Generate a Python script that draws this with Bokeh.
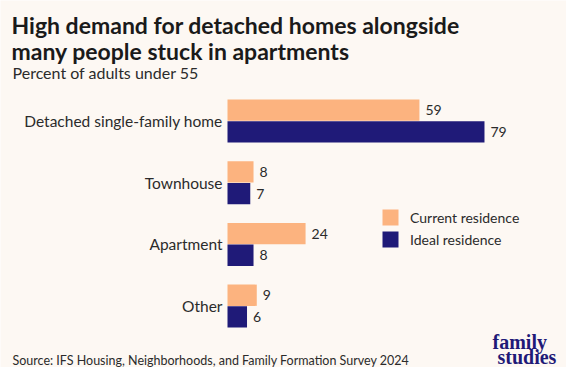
from bokeh.plotting import figure
from bokeh.models import ColumnDataSource, Range1d, Label, Legend, LegendItem
from bokeh.core.properties import value
from bokeh.embed import file_html
from bokeh.resources import INLINE

categories = ["Detached single-family home", "Townhouse", "Apartment", "Other"]
current = [59, 8, 24, 9]
ideal = [79, 7, 8, 6]
series_names = ["Current residence", "Ideal residence"]

BG = "#fdf8f3"
ORANGE = "#fcb37f"
NAVY = "#1f1a78"
TXT = "#2b2b2b"

W, H = 566, 367
px_per_unit = 3.253
bar_x0 = 227.0
pitch = 61.7
first_center = 120.5

p = figure(width=W, height=H, output_backend="svg", toolbar_location=None,
           x_range=Range1d(-bar_x0 / px_per_unit, (W - bar_x0) / px_per_unit),
           y_range=Range1d((H - first_center) / pitch, -first_center / pitch),
           min_border=0, x_axis_type=None, y_axis_type=None)
p.background_fill_color = BG
p.border_fill_color = BG
p.outline_line_color = None
p.xgrid.visible = False
p.ygrid.visible = False

idx = list(range(len(categories)))
off = 0.176
hgt = 0.345
src = ColumnDataSource(dict(
    cat=categories, cur=current, ide=ideal,
    yc=[i - off for i in idx], yi=[i + off for i in idx], ym=idx,
    curs=[str(v) for v in current], ides=[str(v) for v in ideal],
))

r_cur = p.hbar(y="yc", left=0, right="cur", height=hgt, source=src,
               fill_color=ORANGE, line_color=None)
r_ide = p.hbar(y="yi", left=0, right="ide", height=hgt, source=src,
               fill_color=NAVY, line_color=None)

p.text(x="cur", y="yc", text="curs", source=src, x_offset=6,
       text_baseline="middle", text_align="left", text_font=value("Lato"),
       text_font_size="14px", text_color=TXT)
p.text(x="ide", y="yi", text="ides", source=src, x_offset=6,
       text_baseline="middle", text_align="left", text_font=value("Lato"),
       text_font_size="14px", text_color=TXT)
p.text(x=0, y="ym", text="cat", source=src, x_offset=-5,
       text_baseline="middle", text_align="right", text_font=value("Lato"),
       text_font_size="15.5px", text_color=TXT)

legend = Legend(items=[LegendItem(label=series_names[0], renderers=[r_cur]),
                       LegendItem(label=series_names[1], renderers=[r_ide])],
                location=(380, 118), orientation="vertical",
                glyph_width=20, glyph_height=20, label_height=20,
                label_standoff=10, spacing=2, padding=0, margin=0,
                border_line_color=None, background_fill_alpha=0,
                label_text_font="Lato", label_text_font_size="14px",
                label_text_color=TXT)
p.add_layout(legend, "center")

def lab(text, x, y, size, style="normal", font="Lato", color=TXT):
    p.add_layout(Label(x=x, y=y, x_units="screen", y_units="screen", text=text,
                       text_font=font, text_font_size=size, text_font_style=style,
                       text_color=color, text_baseline="alphabetic", text_align="left"))

lab("High demand for detached homes alongside", 11, H - 24, "23px", "bold", color="#1a1a1a")
lab("many people stuck in apartments", 11, H - 50, "23px", "bold", color="#1a1a1a")
lab("Percent of adults under 55", 12, H - 72, "16px")
lab("Source: IFS Housing, Neighborhoods, and Family Formation Survey 2024", 12, 7, "12.5px")
lab("family", 492, 26, "20px", "bold", font="Liberation Serif", color=NAVY)
lab("studies", 497, 11, "20px", "bold", font="Liberation Serif", color=NAVY)

open("out.html", "w").write(file_html(p, INLINE))
